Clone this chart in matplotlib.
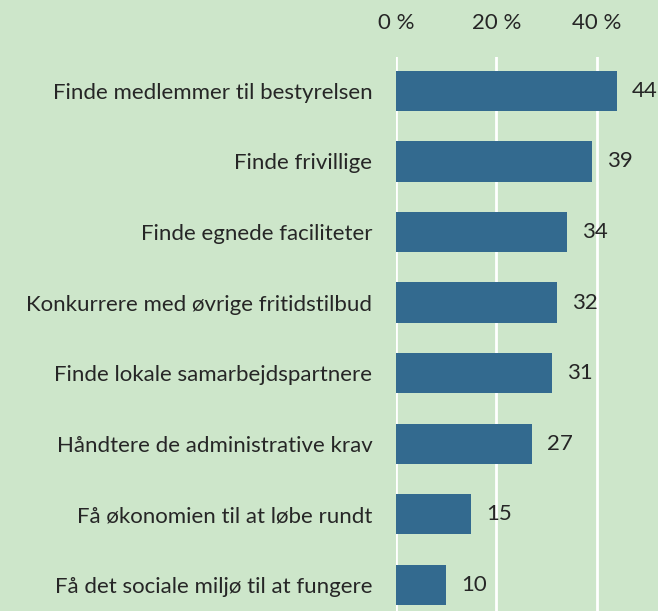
import matplotlib.pyplot as plt

# data
labels = ['Finde medlemmer til bestyrelsen', 'Finde frivillige', 'Finde egnede faciliteter',
          'Konkurrere med øvrige fritidstilbud', 'Finde lokale samarbejdspartnere',
          'Håndtere de administrative krav', 'Få økonomien til at løbe rundt',
          'Få det sociale miljø til at fungere']
values = [44, 39, 34, 32, 31, 27, 15, 10]
xticks = [0, 20, 40]

bg = '#cde6ca'
bar_col = '#336a8f'
txt = '#262626'

plt.rcParams['font.family'] = ['Lato', 'DejaVu Sans']

fig = plt.figure(figsize=(6.58, 6.11), dpi=100, facecolor=bg)
ax = fig.add_axes([396/658, 0, 262/658, (611-57)/611])
ax.set_facecolor(bg)

pos = list(range(len(values)))
ax.barh(pos, values, height=0.57, color=bar_col, zorder=3)

# value labels right of bars
for p, v in zip(pos, values):
    ax.annotate(str(v), (v, p), xytext=(11, 0), textcoords='offset points',
                va='center', ha='left', fontsize=16, color=txt)

ax.set_xlim(0, 52.2)
ax.set_ylim(7.37, -0.48)
ax.set_xticks(xticks)
ax.set_xticklabels([f'{t} %' for t in xticks])
ax.xaxis.tick_top()
ax.tick_params(axis='x', length=0, pad=17, labelsize=16, colors=txt)
ax.set_yticks(pos)
ax.set_yticklabels(labels)
ax.tick_params(axis='y', length=0, pad=17, labelsize=16, colors=txt)
ax.grid(axis='x', color='white', linewidth=2, zorder=1)
for s in ax.spines.values():
    s.set_visible(False)

plt.savefig('out.png', dpi=100, facecolor=bg)
